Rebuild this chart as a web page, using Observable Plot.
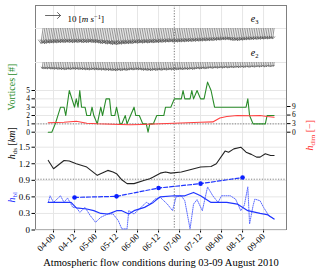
<!DOCTYPE html>
<html><head><meta charset="utf-8">
<script src="https://cdn.jsdelivr.net/npm/d3@7"></script>
<script src="https://cdn.jsdelivr.net/npm/@observablehq/plot@0.6"></script>
<style>
body{margin:0;background:#fff;}
#wrap{position:relative;width:320px;height:275px;}
#wrap svg{position:absolute;left:0;top:0;}
</style></head><body><div id="wrap"></div>
<script>
// ---- data (hours since 04 Aug 00:00) ----
const xTicks = [0,12,24,36,48,60,72,84,96,108,120];
const xTickLabels = ["04-00","04-12","05-00","05-12","06-00","06-12","07-00","07-12","08-00","08-12","09-00"];
const markerT = 69; // vertical dotted line

const vecT = d3.range(-6, 127);
const e3Speed = [10.0,9.8,10.1,9.9,9.6,9.8,9.5,9.7,9.4,9.6,
9.3,9.5,9.2,9.4,9.3,9.1,9.4,9.2,9.5,9.3,
9.2,9.4,9.1,9.3,9.5,9.2,9.4,9.3,9.1,9.4,
9.3,9.6,9.4,9.7,9.9,10.1,9.8,10.2,10.4,10.1,
10.5,10.7,10.4,10.8,10.6,10.3,10.5,10.1,10.3,10.0,
10.2,9.9,10.1,9.8,9.6,9.9,9.7,9.5,9.8,9.6,
9.4,9.7,9.5,9.3,9.6,9.4,9.2,9.5,9.1,9.3,
9.0,9.2,8.9,9.1,8.8,9.0,9.2,8.9,9.1,8.8,
9.0,8.7,8.9,8.6,8.8,8.5,8.7,8.4,8.6,8.3,
8.5,8.2,8.4,8.1,8.3,8.0,8.2,7.9,8.1,7.8,
7.9,7.6,7.8,7.5,7.4,7.6,7.3,7.5,7.7,7.9,
8.0,7.8,8.1,7.9,7.7,7.8,7.5,7.6,7.3,7.5,
7.2,7.4,7.1,7.3,7.0,7.2,6.9,7.1,6.8,7.0,
6.9,6.7,6.8];
const e2Speed = [4.0,4.2,4.1,4.3,4.0,4.4,4.2,4.5,4.3,4.6,
4.4,4.7,4.5,4.8,4.6,4.4,4.7,4.5,4.3,4.6,
4.4,4.7,4.5,4.8,4.6,4.9,4.7,5.0,4.8,4.6,
4.9,4.7,5.0,4.8,5.1,4.9,5.2,5.0,5.3,5.1,
5.4,5.2,5.5,5.3,5.1,5.4,5.2,5.0,5.3,5.1,
4.9,4.7,5.0,4.8,4.6,4.9,4.7,5.0,5.2,5.0,
5.3,5.1,5.4,5.2,5.0,5.3,5.1,4.9,5.2,5.0,
4.8,5.1,4.9,4.7,5.0,4.8,4.6,4.9,4.7,4.5,
4.8,4.6,4.4,4.7,4.5,4.3,4.6,4.4,4.2,4.0,
4.3,4.1,3.9,4.2,4.0,3.8,3.6,3.9,3.7,3.5,
3.8,3.6,3.4,3.7,3.5,3.3,3.6,3.4,3.2,3.5,
3.3,3.1,3.4,3.2,3.0,3.3,3.1,2.9,3.2,3.0,
2.8,3.1,2.9,2.7,3.0,2.8,2.6,2.9,2.7,2.5,
2.8,2.6,2.4];
const rowNames = ["e3","e2"];
const rowLevel = [1, 0];

const vortT = [-3,-1,1,4,6,7,9,12,13,14,15,16,18,19,21,22,23,25,27,28,30,32,33,35,36,38,39,41,42,44,46,47,49,51,53,54,55,57,59,61,63,64,67,69,73,74,75,78,79,80,82,84,86,88,90,91,92,101,107,110,111,112,114,116,121,122,126];
const vortV = [0,0,1,3,3,2,5,3,4,3,5,3,3,2,2,3,2,1,3,2,4,4,2,2,3,1,1,2,1,2,3,2,2,1,1,0,1,1,2,2,2,3,3,4,4,5,4,4,5,4,5,4,4,6,5,4,3,3,3,3,4,2,1,1,1,2,2];

const hdimT = [-3,6,13,19,25,38,44,50,61,69,84,91,95,99,105,113,118,122,126];
const hdimV = [3.3,3.5,3.85,3.15,2.94,2.7,2.6,2.7,2.94,3.15,3.5,3.6,5.0,5.5,5.85,5.74,5.85,5.5,5.26];

const hdsT = [-3,0,6,9,13,19,25,31,34,36,39,42,46,52,55,57,61,64,67,73,78,84,90,93,98,100,103,107,110,113,116,118,121,124,126];
const hdsV = [1.26,1.11,1.26,1.25,1.20,1.14,0.99,1.08,1.05,1.02,0.91,0.84,0.84,0.90,0.93,0.96,1.03,1.05,1.03,1.05,1.09,1.14,1.15,1.20,1.43,1.41,1.47,1.50,1.41,1.37,1.32,1.32,1.38,1.35,1.35];

const blT = [-3,10,13,19,23,27,31,33,36,39,43,46,52,57,60,61,69,75,80,84,90,99,105,111,118,122,126];
const blV = [0.50,0.50,0.40,0.38,0.35,0.30,0.29,0.31,0.35,0.35,0.29,0.35,0.41,0.50,0.58,0.60,0.62,0.62,0.68,0.62,0.50,0.50,0.47,0.35,0.30,0.28,0.20];

const blDotT = [-3,-2,0,4,6,8,11,13,15,18,21,24,27,31,34,37,39,42,43,46,50,53,55,58,61,65,68,70,73,75,78,80,82,85,88,91,94,96,101,104,107,109,111,112,114,115,118,120,123,126];
const blDotV = [0.50,0.62,0.50,0.62,0.50,0.58,0.41,0.41,0.32,0.41,0.26,0.14,0.23,0.29,0.29,0.17,0.02,0.02,0.35,0.29,0.41,0.50,0.47,0.56,0.59,0.47,0.35,0.60,0.62,0.53,0.02,0.47,0.55,0.35,0.78,0.62,0.50,0.62,0.62,0.56,0.35,0.45,0.78,0.11,0.44,0.56,0.53,0.41,0.26,0.20];

const blMarkT = [12,36,60,84,108];
const blMarkV = [0.59,0.61,0.76,0.84,0.95];

const xLabel = "Atmospheric flow conditions during 03-09 August 2010";

// ---- tables ----
const vecData = [
  ...e3Speed.map((s,i)=>({t:vecT[i], row:rowLevel[0], s})),
  ...e2Speed.map((s,i)=>({t:vecT[i], row:rowLevel[1], s}))
];
const zip = (T,V)=>T.map((t,i)=>({t, v:V[i]}));
const vort = zip(vortT, vortV), hdim = zip(hdimT, hdimV), hds = zip(hdsT, hdsV);
const bl = zip(blT, blV), blDot = zip(blDotT, blDotV), blMark = zip(blMarkT, blMarkV);

// ---- layout ----
const W=320, H=275, ML=35, MR=34, MT=5, MB=46;
const xDomain = [-10.3, 133.1];
const font = "'Liberation Serif', 'DejaVu Serif', serif";
function layer(o){
  return Plot.plot({
    width:W, height:H, marginLeft:ML, marginRight:MR, marginTop:MT, marginBottom:MB,
    style:{background:"none", fontFamily:font, fontSize:"9px", color:"#000", overflow:"visible"},
    x:{domain:xDomain, axis:null},
    ...o
  });
}
const gridC = "#e6e6e6";

const baseLayer = layer({
  y:{domain:[0,1], axis:null},
  marks:[
    Plot.gridX(xTicks, {stroke:gridC, strokeOpacity:1}),
    Plot.ruleX([markerT], {stroke:"#666", strokeDasharray:"1.2,1.5", strokeWidth:0.9}),
    Plot.frame({stroke:"#808080", strokeWidth:1}),
    Plot.axisX(xTicks, {tickFormat:d=>xTickLabels[xTicks.indexOf(d)], tickRotate:-45, tickSize:3.5, tickPadding:2, label:null, fontSize:9}),
    Plot.text([xLabel], {frameAnchor:"bottom", dy:36, fontSize:10.5})
  ]
});

const vecLayer = layer({
  y:{domain:[0,1], range:[62,28], axis:null},
  length:{type:"linear", domain:[0,10], range:[0,15]},
  marks:[
    Plot.gridY(rowLevel, {stroke:gridC, strokeOpacity:1}),
    Plot.vector(vecData, {x:"t", y:"row", length:"s", rotate:188, anchor:"start", stroke:"#3a3a3a", strokeWidth:0.5}),
    Plot.vector([10], {length:d=>d, rotate:90, anchor:"start", frameAnchor:"top-left", dx:10, dy:10, stroke:"#444", strokeWidth:0.8}),
    Plot.text(["10 [m s-1]"], {frameAnchor:"top-left", dx:32, dy:10, textAnchor:"start", fontSize:9}),
    Plot.text(rowNames, {y:rowLevel, text:d=>d, frameAnchor:"right", dx:-28, dy:-10, fontSize:10})
  ]
});

const vortLayer = layer({
  y:{domain:[0,5], range:[131.7,90], axis:null},
  marks:[
    Plot.gridY([0,1,2,3,4,5], {stroke:gridC, strokeOpacity:1}),
    Plot.ruleY([1], {stroke:"#777", strokeDasharray:"1.2,1.5", strokeWidth:0.9}),
    Plot.axisY([0,1,2,3,4,5], {anchor:"left", tickSize:3.5, tickPadding:2, label:null, fontSize:7.5}),
    Plot.line(vort, {x:"t", y:"v", stroke:"#2a8c2a", strokeWidth:1.1}),
    Plot.text(["Vortices [#]"], {y:[2.6], text:d=>d, frameAnchor:"left", dx:-24, rotate:-90, fill:"#2a8c2a", fontSize:10})
  ]
});

const hdimLayer = layer({
  y:{domain:[0,9], range:[131.7,106], axis:null},
  marks:[
    Plot.axisY([0,3,6,9], {anchor:"right", tickSize:3.5, tickPadding:2, label:null, fontSize:7.5}),
    Plot.line(hdim, {x:"t", y:"v", stroke:"#ff4040", strokeWidth:1.1}),
    Plot.text(["h_dim [−]"], {y:[4.3], text:d=>d, frameAnchor:"right", dx:23, rotate:-90, fill:"#ff3030", fontSize:10})
  ]
});

const kmLayer = layer({
  y:{domain:[0,1.5], range:[229.5,146.7], axis:null},
  marks:[
    Plot.gridY([0,0.3,0.6,0.9,1.2,1.5], {stroke:gridC, strokeOpacity:1}),
    Plot.ruleY([0.92], {stroke:"#777", strokeDasharray:"1.2,1.5", strokeWidth:0.9}),
    Plot.axisY([0,0.3,0.6,0.9,1.2,1.5], {anchor:"left", tickSize:3.5, tickPadding:2, label:null, fontSize:9, tickFormat:d=>d===0?"0":d.toFixed(1)}),
    Plot.line(hds, {x:"t", y:"v", stroke:"#222", strokeWidth:1.1}),
    Plot.line(blDot, {x:"t", y:"v", stroke:"#5c6cff", strokeWidth:1, strokeDasharray:"1,1.2"}),
    Plot.line(bl, {x:"t", y:"v", stroke:"#1f35ff", strokeWidth:1.2}),
    Plot.line(blMark, {x:"t", y:"v", stroke:"#1f35ff", strokeWidth:1.2, strokeDasharray:"4,2"}),
    Plot.dot(blMark, {x:"t", y:"v", fill:"#0a1fff", r:2.3}),
    Plot.text(["h_ds [km]"], {y:[1.28], text:d=>d, frameAnchor:"left", dx:-24, rotate:-90, fill:"#111", fontSize:10}),
    Plot.text(["h_bl"], {y:[0.5], text:d=>d, frameAnchor:"left", dx:-24, rotate:-90, fill:"#1f35ff", fontSize:10})
  ]
});

const rich = {
  "10 [m s-1]": '10 [<tspan font-style="italic">m s</tspan><tspan font-size="6.5" dy="-3">−1</tspan><tspan dy="3">]</tspan>',
  "e3": '<tspan font-style="italic">e</tspan><tspan font-size="6.5" dy="2">3</tspan>',
  "e2": '<tspan font-style="italic">e</tspan><tspan font-size="6.5" dy="2">2</tspan>',
  "h_dim [−]": '<tspan font-style="italic">h</tspan><tspan font-size="7" dy="2">dim</tspan><tspan dy="-2"> [−]</tspan>',
  "h_ds [km]": '<tspan font-style="italic">h</tspan><tspan font-size="7" dy="2">ds</tspan><tspan dy="-2"> [</tspan><tspan font-style="italic">km</tspan>]',
  "h_bl": '<tspan font-style="italic">h</tspan><tspan font-size="7" dy="2">bl</tspan>'
};
const wrap = document.getElementById("wrap");
for (const svg of [baseLayer, vecLayer, vortLayer, hdimLayer, kmLayer]) {
  d3.select(svg).selectAll("text").each(function(){
    const r = rich[this.textContent];
    if (r) this.innerHTML = r;
  });
  wrap.appendChild(svg);
}
</script></body></html>
